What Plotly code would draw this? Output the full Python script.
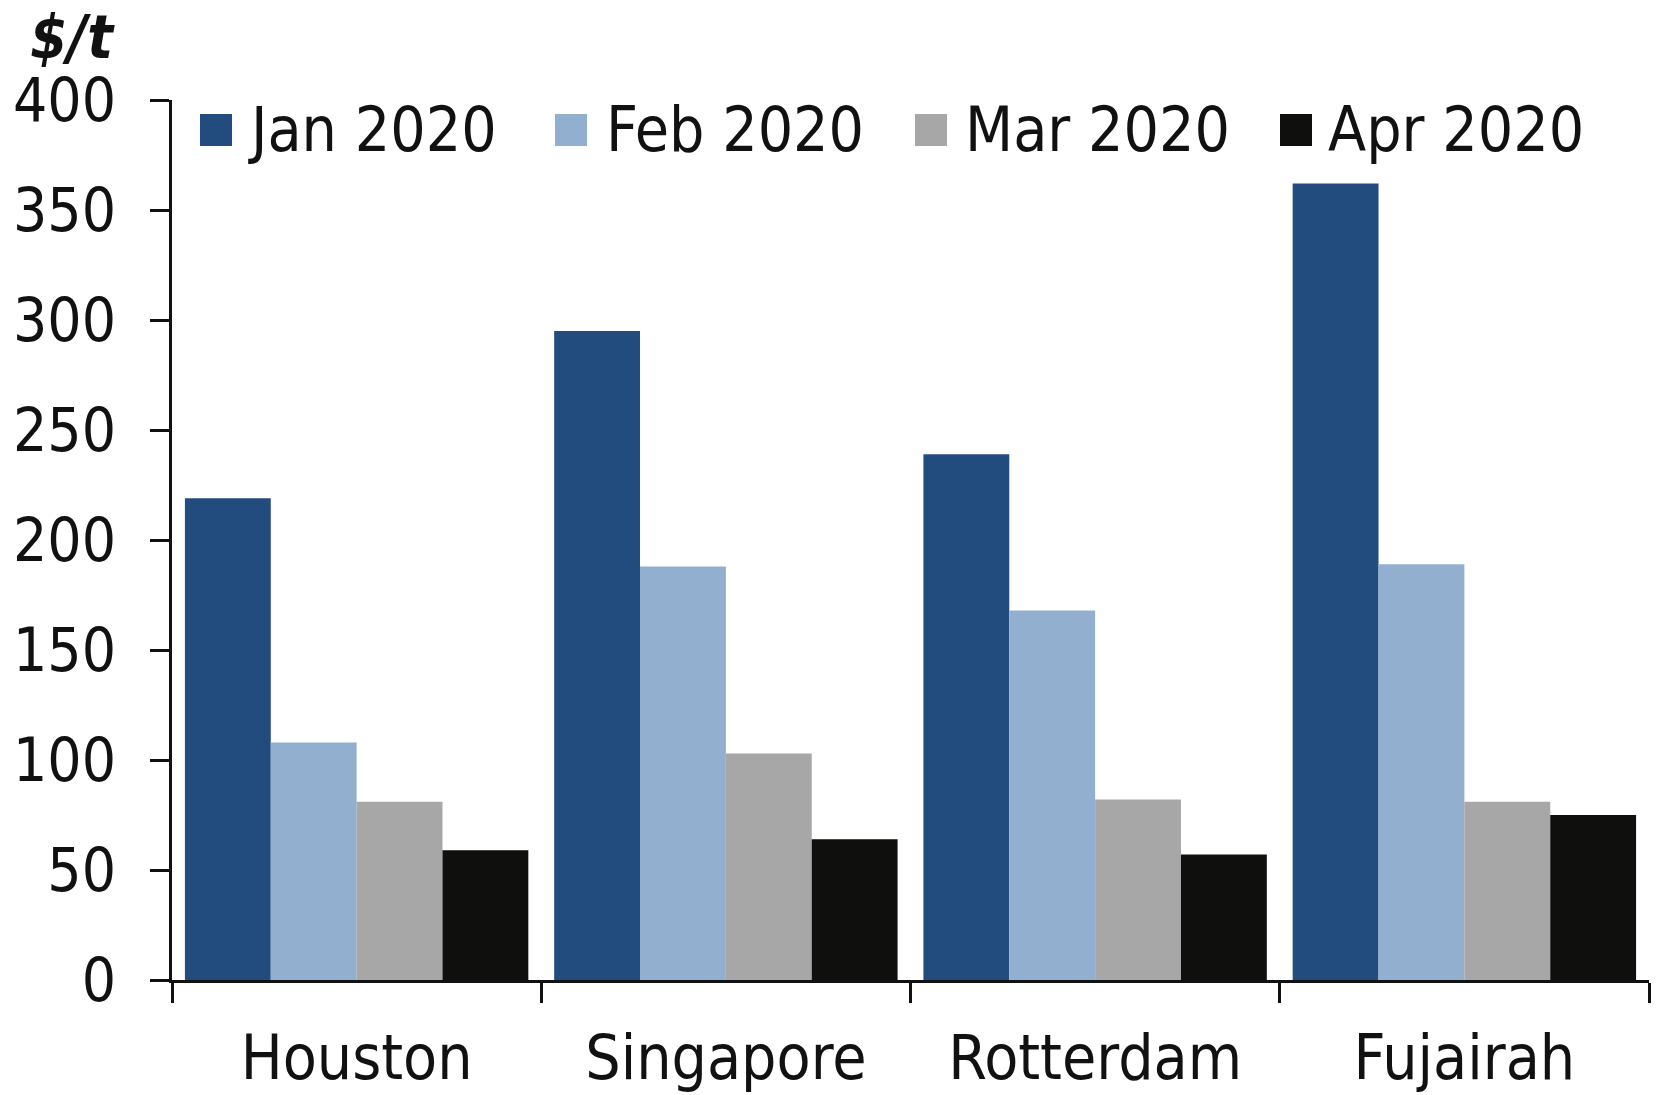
import plotly.graph_objects as go

categories = ["Houston", "Singapore", "Rotterdam", "Fujairah"]
series_names = ["Jan 2020", "Feb 2020", "Mar 2020", "Apr 2020"]
jan = [219, 295, 239, 362]
feb = [108, 188, 168, 189]
mar = [81, 103, 82, 81]
apr = [59, 64, 57, 75]
y_ticks = [0, 50, 100, 150, 200, 250, 300, 350, 400]
unit_label = "$/t"

values = [jan, feb, mar, apr]
colors = ["#224C7E", "#92AFCF", "#A6A7A6", "#0F0F0D"]

FONT = "DejaVu Sans Condensed, DejaVu Sans, sans-serif"
W, H = 1665, 1095
# plot box in page pixels (body margin removed below)
PL, PR, PT, PB = 172, 1649, 100, 980
L, T, R, B = PL, PT, W - PR, H - PB
PW, PH = PR - PL, PB - PT

fig = go.Figure()
for name, vals, col in zip(series_names, values, colors):
    fig.add_trace(go.Bar(x=categories, y=vals, name=name, marker=dict(color=col, line=dict(width=0)),
                         showlegend=False))

def px_x(px):
    return (px - PL) / PW

def px_y(py):
    return (PB - py) / PH

# manual legend (large square swatches)
sq_left = [200, 555, 915, 1280]
txt_left = [246, 604, 963, 1326]
sq = 32
cy = 130
shapes = []
annotations = []
for name, col, sx, tx in zip(series_names, colors, sq_left, txt_left):
    shapes.append(dict(type="rect", xref="paper", yref="paper",
                       x0=px_x(sx), x1=px_x(sx + sq), y0=px_y(cy + sq / 2), y1=px_y(cy - sq / 2),
                       fillcolor=col, line=dict(width=0)))
    annotations.append(dict(text=name, xref="paper", yref="paper", x=px_x(tx), y=px_y(cy),
                            xanchor="left", yanchor="middle", showarrow=False,
                            font=dict(family=FONT, size=62, color="#111111")))

annotations.append(dict(text="<b><i>" + unit_label + "</i></b>", xref="paper", yref="paper",
                        x=px_x(117), y=px_y(0), xanchor="right", yanchor="top", showarrow=False,
                        font=dict(family=FONT, size=60, color="#111111")))

fig.update_layout(
    width=W, height=H,
    margin=dict(l=L, r=R, t=T, b=B, autoexpand=False),
    paper_bgcolor="white", plot_bgcolor="white",
    barmode="group", bargap=0.07, bargroupgap=0,
    font=dict(family=FONT, color="#111111"),
    shapes=shapes, annotations=annotations,
    showlegend=False,
)
fig.update_xaxes(
    automargin=False,
    showline=True, linecolor="#111111", linewidth=3,
    ticks="outside", tickson="boundaries", ticklen=20, tickwidth=3, tickcolor="#111111",
    tickfont=dict(family=FONT, size=62, color="#111111"),
    showgrid=False, zeroline=False, ticklabelstandoff=22,
)
fig.update_yaxes(
    automargin=False,
    range=[0, 400], tickvals=y_ticks,
    showline=True, linecolor="#111111", linewidth=3,
    ticks="outside", ticklen=19, tickwidth=3, tickcolor="#111111",
    tickfont=dict(family=FONT, size=60, color="#111111"),
    showgrid=False, zeroline=False, ticklabelstandoff=22,
)

fig.write_html("out.html",
               config={"displayModeBar": False},
               post_script="document.body.style.margin='0px';document.body.style.overflow='hidden';")
